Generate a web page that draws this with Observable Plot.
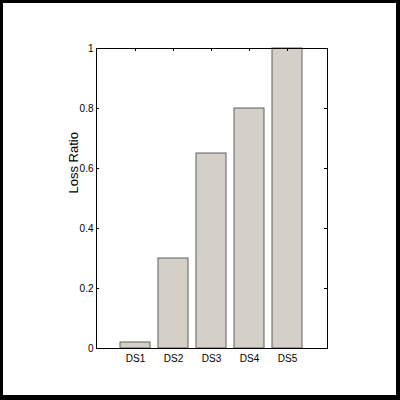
<!DOCTYPE html>
<html>
<head>
<meta charset="utf-8">
<script src="https://cdn.jsdelivr.net/npm/d3@7"></script>
<script src="https://cdn.jsdelivr.net/npm/@observablehq/plot@0.6"></script>
<style>
  html, body { margin: 0; padding: 0; background: #fff; }
  #wrap { position: relative; width: 400px; height: 400px; overflow: hidden; }
  #border { position: absolute; left: 0; top: 0; width: 400px; height: 400px; box-sizing: border-box;
            border-style: solid; border-color: #000; border-width: 3px 4px 5px 3px; pointer-events: none; }
  svg { display: block; }
</style>
</head>
<body>
<div id="wrap"><div id="chart"></div><div id="border"></div></div>
<script>
const categories = ["DS1", "DS2", "DS3", "DS4", "DS5"];
const lossRatio = [0.02, 0.30, 0.65, 0.80, 1.00];
const yTicks = [0, 0.2, 0.4, 0.6, 0.8, 1];
const yTickLabels = ["0", "0.2", "0.4", "0.6", "0.8", "1"];
const yLabel = "Loss Ratio";

const data = categories.map((c, i) => ({category: c, value: lossRatio[i]}));

const W = 400, H = 400;
const mL = 96, mR = 73, mT = 48, mB = 52;
const innerW = W - mL - mR, innerH = H - mT - mB;

const chart = Plot.plot({
  width: W,
  height: H,
  marginLeft: mL,
  marginRight: mR,
  marginTop: mT,
  marginBottom: mB,
  style: {fontFamily: "'Liberation Sans', Arial, Helvetica, sans-serif", fontSize: "10px", color: "#000", background: "#fff"},
  x: {domain: categories, paddingInner: 0.2, paddingOuter: 0.6},
  y: {domain: [0, 1]},
  marks: [
    Plot.barY(data, {x: "category", y: "value", fill: "#d4d0c8", stroke: "#5e5e5e", strokeWidth: 1}),
    // inward ticks: top (x), left and right (y)
    Plot.tickX(categories, {x: d => d, stroke: "#000", insetBottom: innerH - 3}),
    Plot.tickY(yTicks, {y: d => d, stroke: "#000", insetRight: innerW - 3}),
    Plot.tickY(yTicks, {y: d => d, stroke: "#000", insetLeft: innerW - 3}),
    Plot.axisY({ticks: yTicks, tickSize: 0, tickPadding: 3, tickFormat: (d) => yTickLabels[yTicks.indexOf(d)], label: null, fontSize: 10}),
    Plot.axisX({anchor: "bottom", tickSize: 0, tickPadding: 6, label: null, fontSize: 10}),
    Plot.frame({stroke: "#000", strokeWidth: 1}),
    Plot.text([yLabel], {text: d => d, frameAnchor: "left", rotate: -90, dx: -23, dy: -5, fontSize: 13, fill: "#000"})
  ]
});
document.getElementById("chart").appendChild(chart);
</script>
</body>
</html>
